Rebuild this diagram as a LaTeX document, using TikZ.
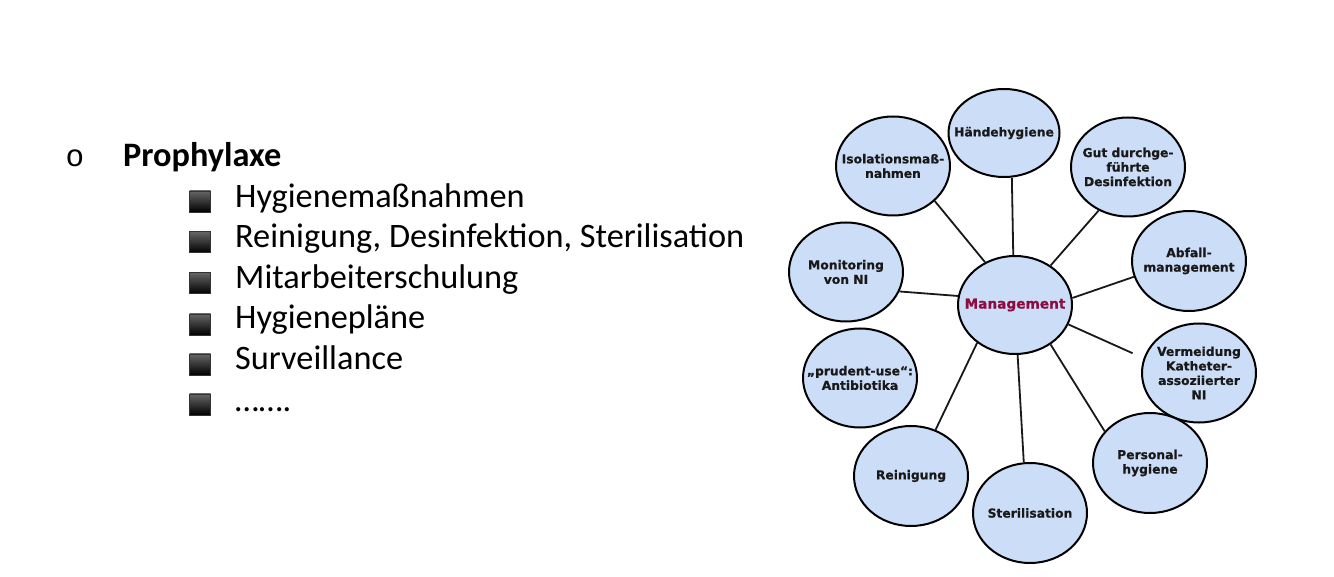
\documentclass[tikz,border=0pt]{standalone}
\usepackage{fontspec}
\setmainfont{Carlito}
\newfontfamily\verd[BoldFeatures={FakeBold=0.6}]{DejaVu Sans}
\newfontfamily\monofnt{Liberation Mono}
\usetikzlibrary{shapes.geometric}
\definecolor{bubble}{RGB}{204,221,247}
\definecolor{mgmt}{RGB}{140,12,62}
\begin{document}
\begin{tikzpicture}[x=1pt,y=-1pt,
  bub/.style={ellipse, draw=black, line width=2pt, fill=bubble, inner sep=0pt,
    minimum width=114pt, minimum height=99pt},
  btxt/.style={inner sep=0pt, align=center,
    font=\verd\bfseries\fontsize{12.3}{14.5}\selectfont, text=black!90},
  link/.style={line width=1.8pt, draw=black!90},
  sq/.style={rectangle, inner sep=0pt, minimum size=21pt, top color=black!60, bottom color=black, draw=black!80, line width=0.6pt},
  item/.style={anchor=base west, inner sep=0pt, font=\fontsize{34.3}{40}\selectfont}]
\useasboundingbox (0,0) rectangle (1334,577);
\fill[white] (0,0) rectangle (1334,577);

% left list
\node[anchor=base, inner sep=0pt, font=\monofnt\fontsize{31}{33}\selectfont] (ob) at (75,167) {o};
\node[anchor=base west, inner sep=0pt, font=\bfseries\fontsize{34.3}{40}\selectfont] (pro) at (123,167) {Prophylaxe};

\node[sq] (b1) at (200,201.5) {};
\node[sq] (b2) at (200,242) {};
\node[sq] (b3) at (200,283) {};
\node[sq] (b4) at (200,324.5) {};
\node[sq] (b5) at (200,364.5) {};
\node[sq] (b6) at (200,404.5) {};
\node[item] (t1) at (235,207.5) {Hygienemaßnahmen};
\node[item] (t2) at (235,248) {Reinigung, Desinfektion, Sterilisation};
\node[item] (t3) at (235,288.5) {Mitarbeiterschulung};
\node[item] (t4) at (235,329) {Hygienepläne};
\node[item] (t5) at (235,369.5) {Surveillance};
\node[item] (t6) at (235,411) {…….};

% diagram
\node[bub] (iso) at (893,166) {};
\node[bub, minimum width=111pt, minimum height=88pt] (hh) at (1004,133) {};
\node[bub] (mon) at (846,272) {};
\node[bub] (gut) at (1128,167) {};
\node[bub, minimum height=100pt] (abf) at (1189,261) {};
\node[bub] (verm) at (1199,373) {};
\node[bub, minimum height=100pt] (pers) at (1150,463) {};
\node[bub, minimum height=100pt] (ster) at (1030,513) {};
\node[bub, minimum height=100pt] (rein) at (911,476) {};
\node[bub] (prud) at (860,378) {};
\node[bub, minimum height=98pt] (mg) at (1015,305) {};

\node[btxt] (iso-t) at (iso) {Isolationsmaß-\\nahmen};
\node[btxt] (hh-t) at (hh) {Händehygiene};
\node[btxt] (mon-t) at (mon) {Monitoring\\von NI};
\node[btxt] (gut-t) at (gut) {Gut durchge-\\führte\\Desinfektion};
\node[btxt] (abf-t) at (abf) {Abfall-\\management};
\node[btxt] (verm-t) at (verm) {Vermeidung\\Katheter-\\assoziierter\\NI};
\node[btxt] (pers-t) at (pers) {Personal-\\hygiene};
\node[btxt] (ster-t) at (ster) {Sterilisation};
\node[btxt] (rein-t) at (rein) {Reinigung};
\node[btxt] (prud-t) at (prud) {„prudent-use“:\\Antibiotika};
\node[btxt, font=\verd\bfseries\fontsize{13.7}{16}\selectfont, text=mgmt] (mg-t) at (mg) {Management};

\draw[link] (mg.125.7) -- (iso.-40.5);
\draw[link] (mg.92) -- (hh.-80);
\draw[link] (mg.171) -- (mon.-20);
\draw[link] (mg.48) -- (gut.-124);
\draw[link] (mg.7) -- (abf.-164);
\draw[link, shorten >=12pt] (mg.-20) -- (verm.165);
\draw[link] (mg.-48) -- (pers.145);
\draw[link] (mg.-87) -- (ster.97);
\draw[link] (mg.-135) -- (rein.62);
\end{tikzpicture}
\end{document}
